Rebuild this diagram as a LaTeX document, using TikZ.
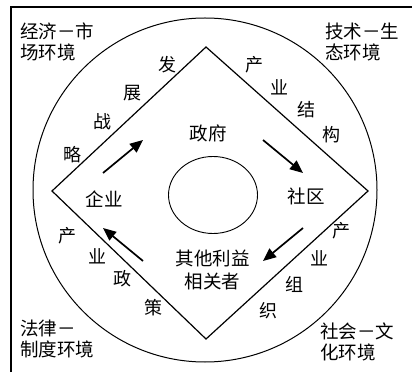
\documentclass[tikz,border=0pt]{standalone}
\usepackage{fontspec}
\newfontfamily\cjk{Noto Sans CJK SC}
\usetikzlibrary{arrows.meta}
\begin{document}
\begin{tikzpicture}[x=1pt,y=1pt,
  lbl/.style={font=\cjk\fontsize{18.5}{20}\selectfont, inner sep=0pt},
  corner/.style={font=\cjk\fontsize{18.5}{21}\selectfont, inner sep=0pt, anchor=west, align=left},
  side/.style={font=\cjk\fontsize{18}{19}\selectfont, inner sep=0pt},
  flow/.style={line width=1.7pt, -{Triangle[length=13pt,width=11pt]}},
  edge/.style={line width=1.2pt, line join=miter}]
\useasboundingbox (0,0) rectangle (412,372);
% frame
\draw[line width=1.4pt] (11,0) -- (11,365) -- (412,365);
% outer circle
\draw[line width=1pt] (205,182) circle (172);
% diamond
\coordinate (T) at (206,325);
\coordinate (L) at (52,181);
\coordinate (R) at (368,181);
\coordinate (B) at (206,33);
\draw[edge] (T) -- (R) -- (B) -- (L) -- cycle;
% inner ellipse
\draw[line width=0.9pt] (213,177) ellipse (44.5 and 38.5);
% corner texts
\node[corner] (em) at (20,330) {经济－市\\场环境};
\node[corner] (te) at (325,330) {技术－生\\态环境};
\node[corner] (lw) at (20,33) {法律－\\制度环境};
\node[corner] (sc) at (320,30) {社会－文\\化环境};
% interior labels
\node[lbl] (gov) at (208,239) {政府};
\node[lbl] (ent) at (104,173) {企业};
\node[lbl] (com) at (306,176) {社区};
\node[lbl, align=center, font=\cjk\fontsize{18.5}{23}\selectfont] (oth) at (212.5,102.5) {其他利益\\相关者};
% arrows
\coordinate (a1s) at (103,199); \coordinate (a1e) at (143,232);
\coordinate (a2s) at (263,232); \coordinate (a2e) at (303,199);
\coordinate (a3s) at (303,144); \coordinate (a3e) at (263,111);
\coordinate (a4s) at (143,111); \coordinate (a4e) at (103,144);
\draw[flow] (a1s) -- (a1e);
\draw[flow] (a2s) -- (a2e);
\draw[flow] (a3s) -- (a3e);
\draw[flow] (a4s) -- (a4e);
% side labels: 发展战略
\node[side] (s1a) at (167,307) {发};
\node[side] (s1b) at (132,279) {展};
\node[side] (s1c) at (102,250) {战};
\node[side] (s1d) at (72,217) {略};
% 产业结构
\node[side] (s2a) at (254,307) {产};
\node[side] (s2b) at (279,285) {业};
\node[side] (s2c) at (306,262) {结};
\node[side] (s2d) at (331,237) {构};
% 产业组织
\node[side] (s3a) at (341,141) {产};
\node[side] (s3b) at (319,114) {业};
\node[side] (s3c) at (294,88) {组};
\node[side] (s3d) at (268,61) {织};
% 产业政策
\node[side] (s4a) at (67,136) {产};
\node[side] (s4b) at (97,116) {业};
\node[side] (s4c) at (122,93) {政};
\node[side] (s4d) at (153,64) {策};
\end{tikzpicture}
\end{document}
